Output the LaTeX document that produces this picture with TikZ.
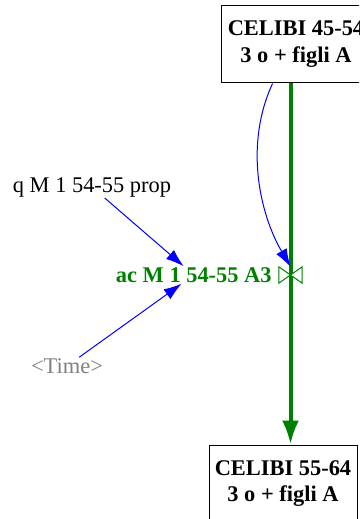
\documentclass[tikz,border=0pt]{standalone}
\usepackage{fontspec}
\setmainfont{Liberation Serif}
\usetikzlibrary{arrows.meta,positioning,calc}

\begin{document}
\begin{tikzpicture}[>=Latex,x=1bp,y=1bp,node distance=6bp]
  \tikzstyle{stock}=[draw,line width=1bp,minimum width=150bp,minimum height=77bp,align=center,inner sep=0pt,font=\fontsize{22.5}{27}\selectfont\bfseries]
  \tikzstyle{label}=[inner sep=1bp,font=\fontsize{22.5}{24}\selectfont]
  \tikzstyle{link}=[blue,line width=1bp,-{Latex[length=18bp,width=12bp]}]
  \tikzstyle{pipe}=[green!50!black,line width=4bp]
  \useasboundingbox (0,0) rectangle (359,-519);
  \clip (0,0) rectangle (359,-519);
  \node[stock] (c4554) at (296,-44.5) {CELIBI 45-54\\3 o + figli A};
  \node[stock,minimum width=148bp] (c5564) at (283,-483.5) {CELIBI 55-64\\3 o + figli A};
  \node[minimum width=23bp,minimum height=16bp,inner sep=0pt] (valve) at (290.5,-275) {};
  \node[label,green!50!black,font=\fontsize{22.5}{24}\selectfont\bfseries,left=of valve] (acM) {ac M 1 54-55 A3};
  \node[label] (qM) at (92,-187) {q M 1 54-55 prop};
  \node[label,gray] (time) at (67,-366) {<Time>};
  \draw[pipe] (c4554.south -| valve) -- (valve.center);
  \draw[pipe,-{Latex[length=24bp,width=17bp]}] (valve.center) -- (c5564.north -| valve);
  \draw[green!50!black,line width=1bp,fill=white] (valve.north west) -- (valve.south east) -- (valve.north east) -- (valve.south west) -- cycle;
  \draw[link] (c4554.239) to[out=245,in=120,looseness=0.9] (valve.north);
  \draw[link] (qM) -- (acM);
  \draw[link] (time) -- (acM);
\end{tikzpicture}
\end{document}
